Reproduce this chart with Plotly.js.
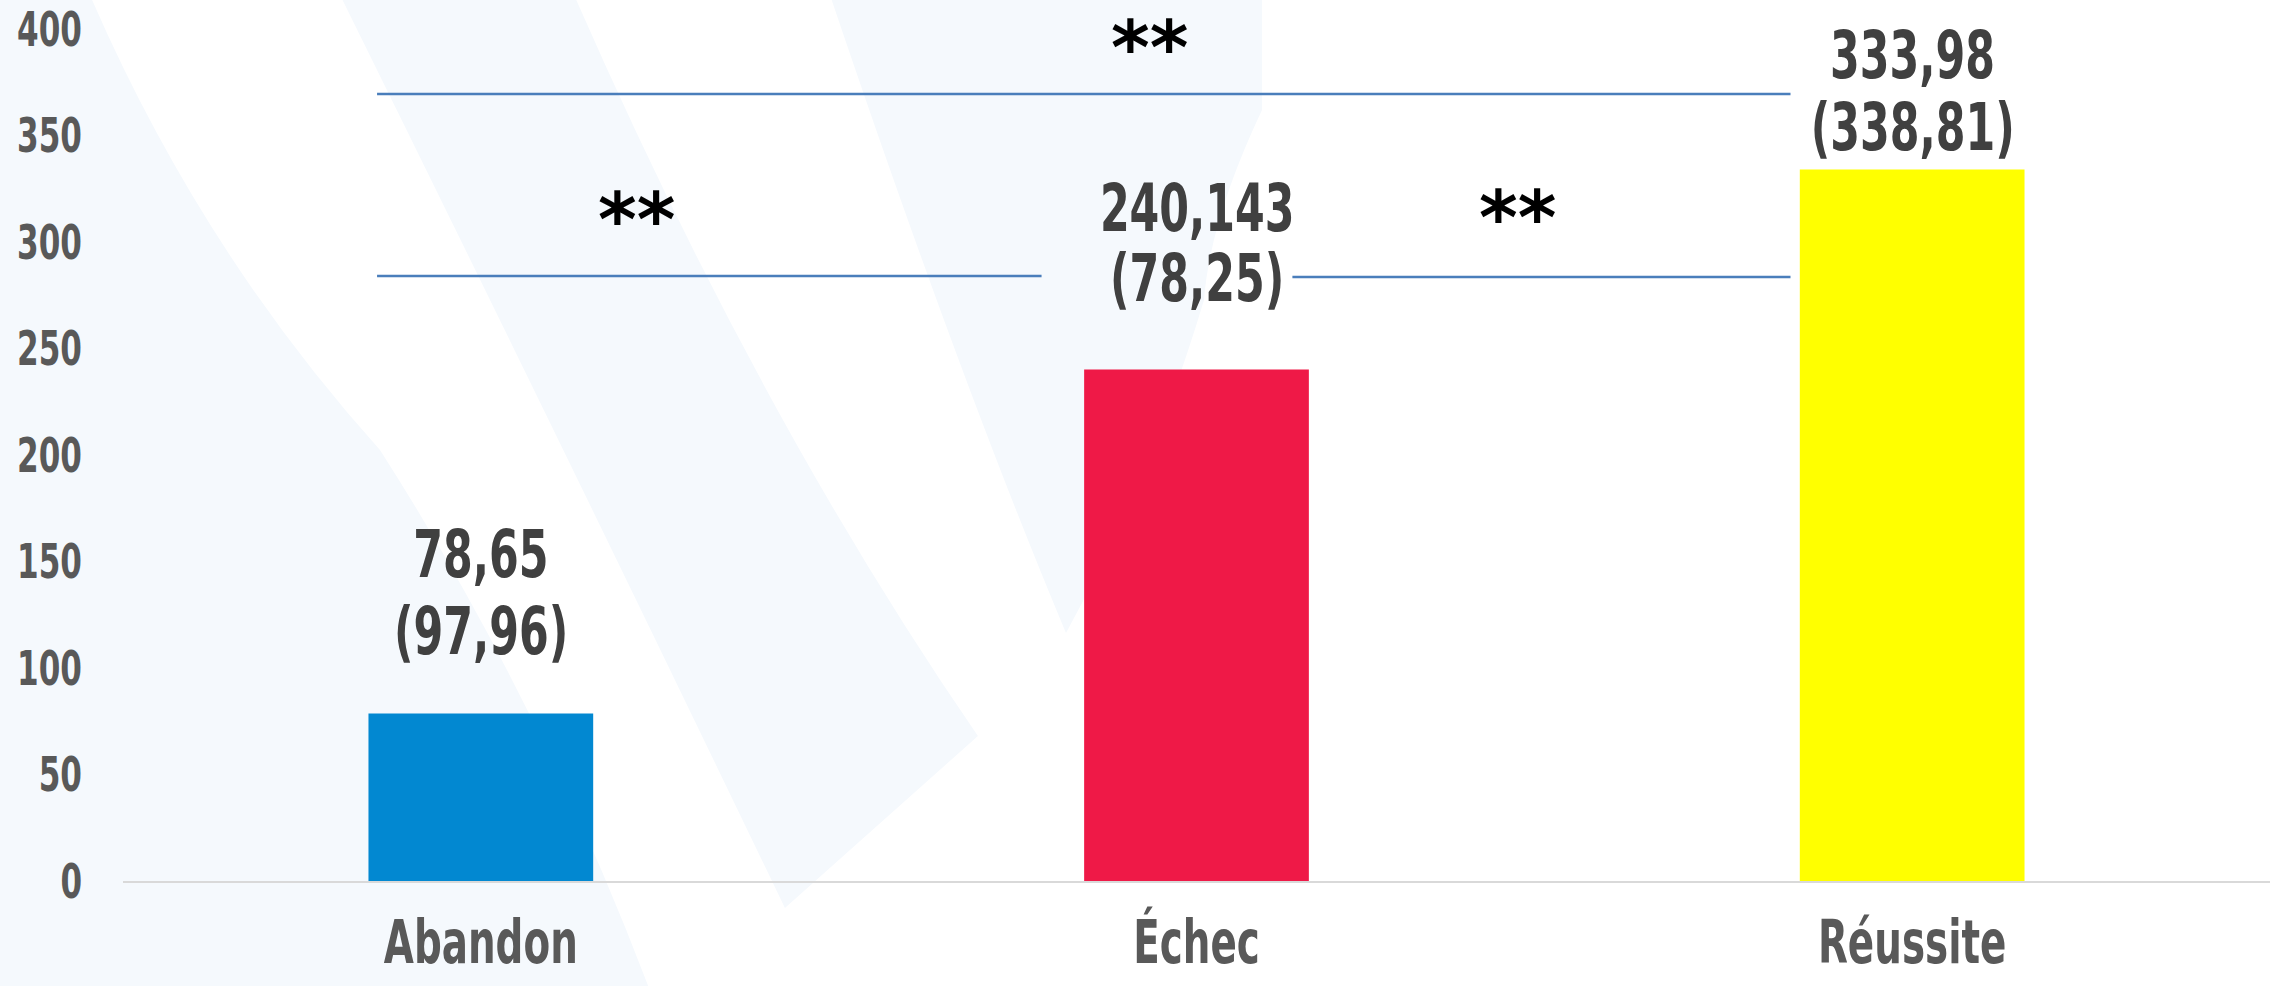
<!DOCTYPE html>
<html><head><meta charset="utf-8">
<script src="https://cdn.plot.ly/plotly-3.0.1.min.js"></script>
<style>html,body{margin:0;padding:0;background:#fff;}#chart{width:2275px;height:986px;}</style>
</head><body><div id="chart"></div>
<script>
// ---- data ----
const categories = ["Abandon", "Échec", "Réussite"];
const means = [78.65, 240.143, 333.98];
const sds = [97.96, 78.25, 338.81];
const meanLabels = ["78,65", "240,143", "333,98"];
const sdLabels = ["(97,96)", "(78,25)", "(338,81)"];
const yTickVals = [0, 50, 100, 150, 200, 250, 300, 350, 400];
const yTickText = ["0", "50", "100", "150", "200", "250", "300", "350", "400"];
const sigLabels = ["**", "**", "**"];

// ---- style ----
const W = 2275, H = 986;
const M = {l: 123, r: 5, t: 29, b: 105};
const NARROW = "'DejaVu Sans Condensed', 'DejaVu Sans', sans-serif";
const SQUEEZE = 0.72;
const barColors = ["#0288D1", "#EF1947", "#FFFF00"];
const line1Shift = [159, 161, 114];
const line2Shift = [82, 91, 42];
const BAND = "#F5F9FD";

const pw = W - M.l - M.r, ph = H - M.t - M.b;
function px2p(x, y) { return ((x - M.l) / pw).toFixed(4) + "," + ((H - M.b - y) / ph).toFixed(4); }
function pathFrom(cmds) {
  return cmds.map(c => {
    if (c.length === 1) return c[0];
    const pts = [];
    for (let i = 1; i < c.length; i += 2) pts.push(px2p(c[i], c[i + 1]));
    return c[0] + " " + pts.join(" ");
  }).join(" ");
}
const bgPaths = [
  [["M", -5, -5], ["L", 90, -5], ["Q", 200, 250, 380, 450], ["Q", 540, 700, 650, 991], ["L", -5, 991], ["Z"]],
  [["M", 340, -5], ["L", 574, -5], ["Q", 760, 420, 978, 736], ["L", 785, 908], ["Q", 560, 440, 340, -5], ["Z"]],
  [["M", 830, -5], ["L", 1262, -5], ["L", 1262, 110], ["Q", 1210, 220, 1204, 300], ["Q", 1150, 480, 1066, 633], ["Q", 960, 380, 830, -5], ["Z"]]
];
const shapes = bgPaths.map(p => ({
  type: "path", xref: "paper", yref: "paper", layer: "below",
  path: pathFrom(p), fillcolor: BAND, line: {width: 0}
}));

// significance brackets (category index units / data units)
const sigLines = [
  {x0: -0.145, x1: 1.83, y: 369.5},
  {x0: -0.145, x1: 0.7835, y: 284.0},
  {x0: 1.134, x1: 1.83, y: 283.6}
];
sigLines.forEach(s => shapes.push({
  type: "line", xref: "x", yref: "y", x0: s.x0, x1: s.x1, y0: s.y, y1: s.y,
  line: {color: "#4A7EBB", width: 2.5}, layer: "above"
}));
const sigTextPos = [{x: 0.934, y: 396.7}, {x: 0.218, y: 316}, {x: 1.448, y: 317}];

const annotations = [];
categories.forEach((c, i) => {
  annotations.push({x: c, y: means[i], xref: "x", yref: "y", text: meanLabels[i], showarrow: false,
    yanchor: "middle", yshift: line1Shift[i], font: {family: NARROW, size: 66, color: "#404040", weight: "bold"}});
  annotations.push({x: c, y: means[i], xref: "x", yref: "y", text: sdLabels[i], showarrow: false,
    yanchor: "middle", yshift: line2Shift[i], font: {family: NARROW, size: 66, color: "#404040", weight: "bold"}});
});
sigTextPos.forEach((p, i) => annotations.push({
  x: p.x, y: p.y, xref: "x", yref: "y", text: sigLabels[i], showarrow: false, yanchor: "middle", yshift: -12,
  font: {family: "'DejaVu Sans', sans-serif", size: 74, color: "#000000", weight: "bold"}
}));

const trace = {
  type: "bar", x: categories, y: means,
  marker: {color: barColors, line: {width: 0}},
  hoverinfo: "skip", showlegend: false
};

const layout = {
  width: W, height: H, margin: M,
  paper_bgcolor: "#FFFFFF", plot_bgcolor: "rgba(0,0,0,0)",
  bargap: 0.686,
  xaxis: {
    type: "category", range: [-0.5, 2.5], showgrid: false, zeroline: false,
    showline: true, linecolor: "#D9D9D9", linewidth: 2, ticks: "",
    ticklabelstandoff: 8,
    tickfont: {family: NARROW, size: 60, color: "#595959", weight: "bold"}
  },
  yaxis: {
    range: [0, 400], tickvals: yTickVals, ticktext: yTickText, showgrid: false, zeroline: false,
    showline: false, ticks: "", ticklabelstandoff: 40,
    tickfont: {family: NARROW, size: 48, color: "#595959", weight: "bold"}
  },
  shapes: shapes, annotations: annotations
};

Plotly.newPlot("chart", [trace], layout, {displayModeBar: false, staticPlot: true}).then(gd => {
  gd.querySelectorAll(".xtick text, .ytick text, .annotation-text").forEach(t => {
    if (t.textContent.trim() === "**") return;
    const L = t.getComputedTextLength();
    t.setAttribute("textLength", (L * SQUEEZE).toFixed(1));
    t.setAttribute("lengthAdjust", "spacingAndGlyphs");
  });
});
</script></body></html>
